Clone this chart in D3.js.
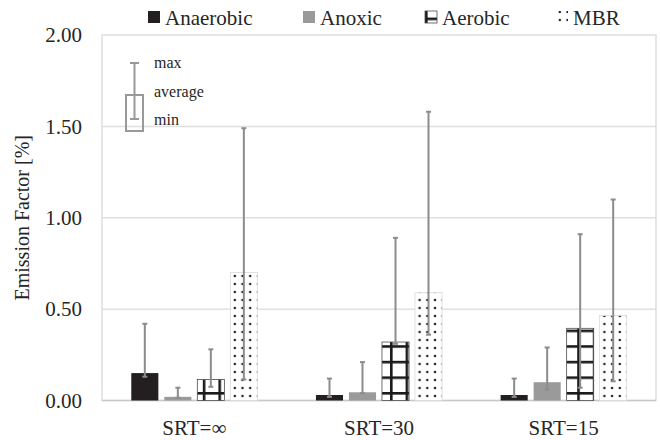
<!doctype html>
<html lang="en">
<head>
<meta charset="utf-8">
<title>Emission Factor</title>
<script src="https://d3js.org/d3.v7.min.js"></script>
<style>
  body { margin: 0; background: #fff; }
  text { font-family: "Liberation Serif", "Times New Roman", serif; fill: #262626; }
</style>
</head>
<body>
<svg width="660" height="440"></svg>
<script>
// groups along the x axis
var categories = ["SRT=\u221E", "SRT=30", "SRT=15"];
var seriesNames = ["Anaerobic", "Anoxic", "Aerobic", "MBR"];
var yTicks = [0, 0.5, 1, 1.5, 2];

// rows = series (Anaerobic, Anoxic, Aerobic, MBR), columns = categories
var avgValues = [
  [0.15, 0.03, 0.03],
  [0.02, 0.045, 0.10],
  [0.115, 0.32, 0.395],
  [0.70, 0.59, 0.465]
];
var minValues = [
  [0.13, 0.02, 0.02],
  [0.015, 0.04, 0.06],
  [0.075, 0.31, 0.07],
  [0.115, 0.36, 0.105]
];
var maxValues = [
  [0.42, 0.12, 0.12],
  [0.07, 0.21, 0.29],
  [0.28, 0.89, 0.91],
  [1.49, 1.58, 1.10]
];

var fills = ["#231f20", "#9a9a9a", "url(#grid)", "url(#dots)"];
var strokes = ["none", "none", "#4d4d4d", "#d9d9d9"];

var svg = d3.select("svg");
var plotLeft = 102, plotRight = 656, plotTop = 35, plotBottom = 400.5;

// patterns
var defs = svg.append("defs");
var grid = defs.append("pattern").attr("id", "grid").attr("patternUnits", "userSpaceOnUse")
  .attr("x", 0).attr("y", 2).attr("width", 15.6).attr("height", 15.6);
grid.append("rect").attr("width", 15.6).attr("height", 15.6).attr("fill", "#fff");
grid.append("rect").attr("x", 0).attr("y", 0).attr("width", 2.6).attr("height", 15.6).attr("fill", "#1a1a1a");
grid.append("rect").attr("x", 0).attr("y", 0).attr("width", 15.6).attr("height", 2.6).attr("fill", "#1a1a1a");

var dots = defs.append("pattern").attr("id", "dots").attr("patternUnits", "userSpaceOnUse")
  .attr("width", 7.7).attr("height", 8);
dots.append("rect").attr("width", 7.7).attr("height", 8).attr("fill", "#fff");
dots.append("circle").attr("cx", 3.8).attr("cy", 4).attr("r", 1.25).attr("fill", "#262626");

var x0 = d3.scaleBand().domain(categories).range([plotLeft, plotRight])
  .paddingInner(0.285).paddingOuter(0.1425);
var x1 = d3.scaleBand().domain(seriesNames).range([0, x0.bandwidth()])
  .paddingInner(0.18).paddingOuter(0.09);
var y = d3.scaleLinear().domain([0, 2]).range([plotBottom, plotTop]);

// gridlines and frame
svg.append("g").selectAll("line").data(yTicks.slice(1, 4)).enter().append("line")
  .attr("x1", plotLeft).attr("x2", plotRight)
  .attr("y1", function(d) { return y(d); }).attr("y2", function(d) { return y(d); })
  .attr("stroke", "#e0e0e0").attr("stroke-width", 1.5);
svg.append("rect").attr("x", plotLeft).attr("y", y(2)).attr("width", plotRight - plotLeft).attr("height", y(0) - y(2))
  .attr("fill", "none").attr("stroke", "#d9d9d9").attr("stroke-width", 1.3);
svg.append("line").attr("x1", plotLeft).attr("x2", plotRight).attr("y1", y(0)).attr("y2", y(0))
  .attr("stroke", "#c8c8c8").attr("stroke-width", 1.5);

// y axis labels
var yAxis = svg.append("g").attr("transform", "translate(" + plotLeft + ",0)")
  .call(d3.axisLeft(y).tickValues(yTicks).tickFormat(d3.format(".2f")).tickSize(0).tickPadding(20));
yAxis.select(".domain").remove();
yAxis.attr("font-family", null);
yAxis.selectAll("text").attr("font-size", 21).style("font-family", "'Liberation Serif', serif").attr("fill", "#262626");

svg.append("text").attr("transform", "translate(29," + ((plotTop + plotBottom) / 2) + ") rotate(-90)")
  .attr("text-anchor", "middle").attr("font-size", 20).text("Emission Factor [%]");

// x axis labels
var xAxis = svg.append("g").attr("transform", "translate(0," + plotBottom + ")")
  .call(d3.axisBottom(x0).tickSize(0).tickPadding(20));
xAxis.select(".domain").remove();
xAxis.attr("font-family", null);
xAxis.selectAll("text").attr("font-size", 21).style("font-family", "'Liberation Serif', serif").attr("fill", "#262626");

// bars
var rows = [];
seriesNames.forEach(function(s, si) {
  categories.forEach(function(c, ci) {
    rows.push({ s: s, si: si, c: c, avg: avgValues[si][ci], min: minValues[si][ci], max: maxValues[si][ci] });
  });
});

svg.append("g").selectAll("rect").data(rows).enter().append("rect")
  .attr("x", function(d) { return x0(d.c) + x1(d.s); })
  .attr("y", function(d) { return y(d.avg); })
  .attr("width", x1.bandwidth())
  .attr("height", function(d) { return y(0) - y(d.avg); })
  .attr("fill", function(d) { return fills[d.si]; })
  .attr("stroke", function(d) { return strokes[d.si]; })
  .attr("stroke-width", 0.8);

// min-max error bars
var err = svg.append("g").attr("stroke", "#8c8c8c").attr("stroke-width", 2);
var cx = function(d) { return x0(d.c) + x1(d.s) + x1.bandwidth() / 2; };
err.selectAll(".v").data(rows).enter().append("line")
  .attr("x1", cx).attr("x2", cx)
  .attr("y1", function(d) { return y(d.min); }).attr("y2", function(d) { return y(d.max); });
err.selectAll(".t").data(rows).enter().append("line")
  .attr("x1", function(d) { return cx(d) - 2.5; }).attr("x2", function(d) { return cx(d) + 2.5; })
  .attr("y1", function(d) { return y(d.max); }).attr("y2", function(d) { return y(d.max); });
err.selectAll(".b").data(rows).enter().append("line")
  .attr("x1", function(d) { return cx(d) - 2.5; }).attr("x2", function(d) { return cx(d) + 2.5; })
  .attr("y1", function(d) { return y(d.min); }).attr("y2", function(d) { return y(d.min); });

// series legend
var legendX = [148, 303, 425, 556];
var legend = svg.append("g").selectAll("g").data(seriesNames).enter().append("g")
  .attr("transform", function(d, i) { return "translate(" + legendX[i] + ",0)"; });
legend.append("rect").attr("x", 0).attr("y", 11).attr("width", 12).attr("height", 12)
  .attr("fill", function(d, i) { return fills[i]; })
  .attr("stroke", function(d, i) { return i === 2 ? "#4d4d4d" : "none"; }).attr("stroke-width", 0.8);
legend.append("text").attr("x", 17).attr("y", 25).attr("font-size", 21).text(function(d) { return d; });

// key for the error bars
var key = svg.append("g").attr("stroke", "#999").attr("stroke-width", 2).attr("fill", "none");
key.append("rect").attr("x", 126).attr("y", 95).attr("width", 17).attr("height", 36);
key.append("line").attr("x1", 134.5).attr("x2", 134.5).attr("y1", 63).attr("y2", 119);
key.append("line").attr("x1", 130).attr("x2", 139).attr("y1", 63).attr("y2", 63);
key.append("line").attr("x1", 130).attr("x2", 139).attr("y1", 119).attr("y2", 119);
var keyText = svg.append("g");
[["max", 68], ["average", 97], ["min", 125]].forEach(function(k) {
  keyText.append("text").attr("x", 154).attr("y", k[1]).attr("font-size", 16).text(k[0]);
});
</script>
</body>
</html>
